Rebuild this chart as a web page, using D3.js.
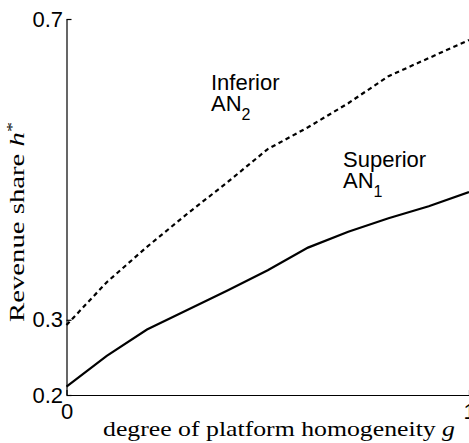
<!DOCTYPE html>
<html>
<head>
<meta charset="utf-8">
<script src="https://cdn.jsdelivr.net/npm/d3@7"></script>
<style>
  body { margin: 0; background: #fff; }
  .tick text { font-family: "Liberation Sans", Arial, sans-serif; font-size: 22px; fill: #000; }
  .serif { font-family: "Liberation Serif", "Times New Roman", serif; }
  .lab { font-family: "Liberation Sans", Arial, sans-serif; font-size: 22px; }
</style>
</head>
<body>
<div id="chart"></div>
<script>
// degree of platform homogeneity g
var gValues   = [0, 0.1, 0.2, 0.3, 0.4, 0.5, 0.6, 0.7, 0.8, 0.9, 1.0];
// revenue share h* for the superior ad network AN1 (solid)
var superior  = [0.211, 0.252, 0.287, 0.313, 0.339, 0.366, 0.396, 0.417, 0.435, 0.451, 0.470];
// revenue share h* for the inferior ad network AN2 (dashed)
var inferior  = [0.293, 0.350, 0.397, 0.441, 0.483, 0.527, 0.556, 0.588, 0.624, 0.648, 0.672];
var yTicks = [0.2, 0.3, 0.7];
var xTicks = [0, 1];

var W = 469, H = 443;
var margin = { top: 19, right: 0, bottom: 48, left: 66.5 },
    width = W - margin.left - margin.right,
    height = H - margin.top - margin.bottom;

var svg = d3.select("#chart").append("svg")
    .attr("width", W).attr("height", H)
    .append("g")
    .attr("transform", "translate(" + margin.left + "," + margin.top + ")");

var xScale = d3.scaleLinear().range([0, width]).domain([0, 1]);
var yScale = d3.scaleLinear().range([height, 0]).domain([0.2, 0.7]);

// axes (ticks pointing inward)
svg.append("g")
    .attr("transform", "translate(0," + height + ")")
    .call(d3.axisBottom(xScale).tickValues(xTicks).tickFormat(d3.format("d"))
            .tickSizeInner(-5).tickSizeOuter(0).tickPadding(8));

svg.append("g")
    .call(d3.axisLeft(yScale).tickValues(yTicks).tickFormat(d3.format(".1f"))
            .tickSizeInner(-5).tickSizeOuter(0).tickPadding(3.5));

svg.selectAll(".domain, .tick line").attr("stroke", "#000").attr("stroke-width", 1.2);

var line = d3.line()
    .x(function(d, i) { return xScale(gValues[i]); })
    .y(function(d) { return yScale(d); });

svg.append("path").datum(inferior)
    .attr("fill", "none").attr("stroke", "#000").attr("stroke-width", 2.2)
    .attr("stroke-dasharray", "4.5,3.5")
    .attr("d", line);

svg.append("path").datum(superior)
    .attr("fill", "none").attr("stroke", "#000").attr("stroke-width", 2.2)
    .attr("d", line);

// curve labels
function curveLabel(x, y, word, sub) {
  var t = svg.append("text").attr("class", "lab").attr("x", x).attr("y", y);
  t.append("tspan").attr("x", x).text(word);
  t.append("tspan").attr("x", x).attr("dy", 21).text("AN");
  t.append("tspan").attr("dy", 9).attr("font-size", 16).text(sub);
}
curveLabel(211 - margin.left, 90 - margin.top, "Inferior", "2");
curveLabel(343 - margin.left, 167 - margin.top, "Superior", "1");

// axis titles
var xt = svg.append("text").attr("class", "serif")
    .attr("x", 103 - margin.left).attr("y", 436 - margin.top)
    .attr("textLength", 352).attr("lengthAdjust", "spacingAndGlyphs")
    .attr("font-size", 21);
xt.append("tspan").text("degree of platform homogeneity ");
xt.append("tspan").attr("font-style", "italic").text("g");

var yt = svg.append("text").attr("class", "serif")
    .attr("transform", "translate(" + (24 - margin.left) + "," + (322 - margin.top) + ") rotate(-90)")
    .attr("textLength", 200).attr("lengthAdjust", "spacingAndGlyphs")
    .attr("font-size", 20);
yt.append("tspan").text("Revenue share ");
yt.append("tspan").attr("font-style", "italic").text("h");
yt.append("tspan").attr("dy", -7).attr("font-size", 14).text("*");
</script>
</body>
</html>
